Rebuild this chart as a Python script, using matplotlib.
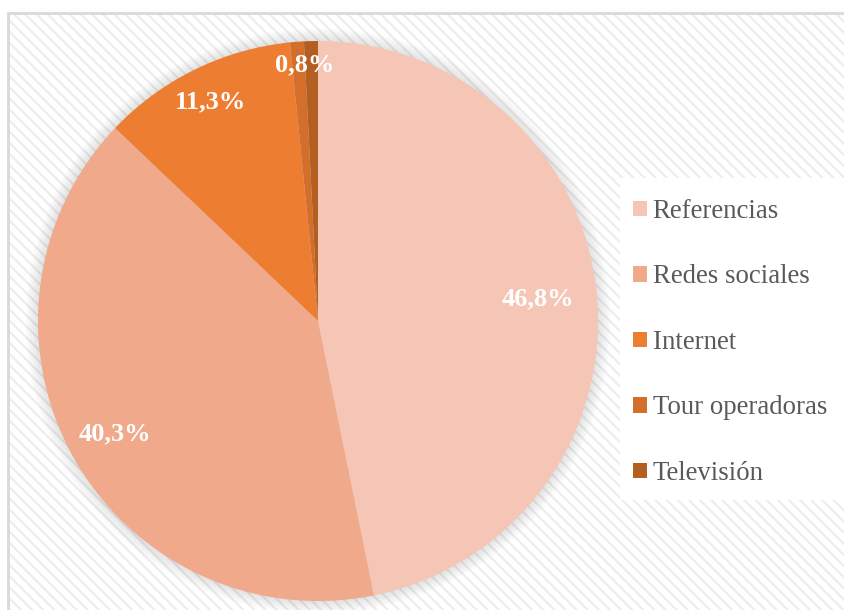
import numpy as np
import matplotlib
matplotlib.use('Agg')
import matplotlib.pyplot as plt
from matplotlib.patches import Rectangle, Circle, Patch

# Data
categorias = ['Referencias', 'Redes sociales', 'Internet', 'Tour operadoras', 'Televisión']
porcentajes = [46.8, 40.3, 11.3, 0.8, 0.8]
colores = ['#F5C6B6', '#F0A98B', '#ED7D31', '#D36E2B', '#B45F22']

# label placement (fraction of radius), None = no label shown
dist_etiquetas = [0.79, 0.83, 0.87, 0.915, None]

plt.rcParams['hatch.linewidth'] = 1.6
W, H = 845, 610
fig = plt.figure(figsize=(W / 100, H / 100), dpi=100)
fig.patch.set_facecolor('white')

# background with diagonal stripes + light border
x0, y0 = 8 / W, 0
bw, bh = 1 - x0 + 0.01, (H - 13) / H
fig.patches.append(Rectangle((x0, y0), bw, bh, transform=fig.transFigure,
                             facecolor='white', edgecolor='#ededed', linewidth=0,
                             hatch='\\\\\\', zorder=-2))
fig.patches.append(Rectangle((x0, y0 - 0.01), bw, bh + 0.01, transform=fig.transFigure,
                             facecolor='none', edgecolor='#d9d9d9', linewidth=2, zorder=-1.5))
# white box behind the legend
fig.patches.append(Rectangle((620 / W, 1 - 500 / H), (W - 620) / W + 0.01, 322 / H,
                             transform=fig.transFigure, facecolor='white',
                             edgecolor='none', zorder=-1))

# pie axes: centre (318, 321) px, radius 280 px
cx, cy, r = 318, 321, 280
ax = fig.add_axes([(cx - r) / W, (H - cy - r) / H, 2 * r / W, 2 * r / H])

# soft shadow around the pie
for k in range(10):
    ax.add_patch(Circle((0, 0), 1.0 + k * 0.005, color='black', alpha=0.012,
                        clip_on=False, zorder=0, linewidth=0))

wedges, _ = ax.pie(porcentajes, colors=colores, startangle=90, counterclock=False,
                   wedgeprops={'linewidth': 0, 'antialiased': True})
for w in wedges:
    w.set_zorder(2)
ax.set_xlim(-1, 1)
ax.set_ylim(-1, 1)
ax.set_aspect('equal')
ax.axis('off')

for i, (w, v) in enumerate(zip(wedges, porcentajes)):
    d = dist_etiquetas[i]
    if d is None:
        continue
    ang = (w.theta1 + w.theta2) / 2
    if i == 3:
        ang = w.theta1  # shared label sits on the boundary of the two small slices
    x = d * np.cos(np.radians(ang))
    y = d * np.sin(np.radians(ang))
    ax.text(x, y, f'{v:.1f}'.replace('.', ',') + '%', ha='center', va='center',
            color='white', fontsize=19, fontweight='bold', family='Liberation Serif',
            zorder=5)

# legend
handles = [Patch(facecolor=c, edgecolor='none') for c in colores]
leg = fig.legend(handles, categorias, loc='upper left',
                 bbox_to_anchor=(633 / W, 1 - 199 / H), frameon=False,
                 prop={'family': 'Liberation Serif', 'size': 19.3},
                 labelspacing=1.51, handlelength=0.53, handleheight=0.53,
                 handletextpad=0.2, borderpad=0, borderaxespad=0)
for t in leg.get_texts():
    t.set_color('#595959')

fig.savefig('out.png', dpi=100)
